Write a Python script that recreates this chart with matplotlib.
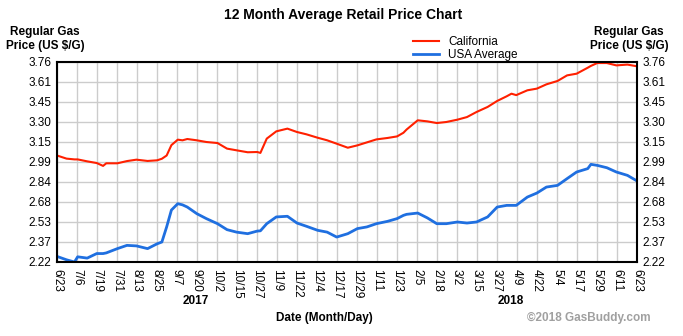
import matplotlib
matplotlib.use("Agg")
import matplotlib.pyplot as plt
import numpy as np

plt.rcParams['font.family'] = ['Liberation Sans', 'DejaVu Sans']

# days since 6/23/2017
days = [0, 6, 11, 13, 19, 25, 29, 31, 38, 44, 50, 57, 63, 66, 69, 72, 76, 79, 82,
        88, 94, 101, 107, 113, 120, 126, 128, 132, 138, 145, 151, 157, 164, 170,
        176, 183, 189, 195, 201, 208, 214, 218, 220, 227, 233, 239, 245, 252, 258,
        264, 271, 277, 283, 286, 289, 296, 302, 308, 315, 321, 327, 334, 336, 340,
        346, 352, 359, 365]

california = [3.04, 3.016, 3.01, 3.01, 2.995, 2.982, 2.96, 2.98, 2.98, 2.997, 3.008,
              2.998, 3.003, 3.015, 3.04, 3.12, 3.162, 3.157, 3.167, 3.157, 3.144,
              3.136, 3.093, 3.08, 3.065, 3.067, 3.06, 3.17, 3.226, 3.247, 3.221,
              3.203, 3.177, 3.157, 3.131, 3.10, 3.118, 3.141, 3.164, 3.175, 3.187,
              3.215, 3.24, 3.311, 3.303, 3.29, 3.298, 3.316, 3.336, 3.375, 3.414,
              3.46, 3.496, 3.516, 3.505, 3.542, 3.555, 3.588, 3.614, 3.657, 3.67,
              3.716, 3.73, 3.752, 3.752, 3.734, 3.74, 3.727]

usa = [2.263, 2.237, 2.22, 2.26, 2.25, 2.285, 2.285, 2.29, 2.323, 2.348, 2.344,
       2.323, 2.36, 2.374, 2.49, 2.62, 2.669, 2.66, 2.643, 2.592, 2.554, 2.515,
       2.469, 2.45, 2.438, 2.458, 2.46, 2.515, 2.567, 2.572, 2.52, 2.495, 2.464,
       2.45, 2.412, 2.438, 2.477, 2.49, 2.515, 2.533, 2.554, 2.579, 2.587, 2.597,
       2.56, 2.515, 2.515, 2.528, 2.52, 2.528, 2.567, 2.643, 2.656, 2.656, 2.656,
       2.72, 2.751, 2.797, 2.81, 2.862, 2.913, 2.939, 2.972, 2.964, 2.946, 2.913,
       2.887, 2.844]

x_labels = ['6/23', '7/6', '7/19', '7/31', '8/13', '8/25', '9/7', '9/20', '10/2',
            '10/15', '10/27', '11/9', '11/22', '12/4', '12/17', '12/29', '1/11',
            '1/23', '2/5', '2/18', '3/2', '3/15', '3/27', '4/9', '4/22', '5/4',
            '5/17', '5/29', '6/11', '6/23']
y_labels = ['2.22', '2.37', '2.53', '2.68', '2.84', '2.99', '3.15', '3.30', '3.45',
            '3.61', '3.76']

W, H = 683, 336
fig = plt.figure(figsize=(W / 100, H / 100), dpi=100)
ax = fig.add_axes([57 / W, 1 - 262 / H, 580 / W, 200 / H])

ax.plot(days, california, color='#ff2000', lw=1.5, label='California')
ax.plot(days, usa, color='#1f6fe0', lw=2.0, label='USA Average')

ax.set_xlim(0, 365)
ax.set_ylim(2.22, 3.76)
ax.set_xticks(np.linspace(0, 365, len(x_labels)))
ax.set_xticklabels(x_labels, rotation=270, fontsize=8.5)
ax.set_yticks(np.linspace(2.22, 3.76, len(y_labels)))
ax.set_yticklabels(y_labels, fontsize=8.5)
ax.tick_params(axis='y', length=0, pad=4, labelleft=True, labelright=True)
ax.tick_params(axis='x', length=0, pad=5)
ax.grid(True, color='#cccccc', lw=1)
for s in ax.spines.values():
    s.set_linewidth(1.5)
    s.set_color('black')

# legend up top, no frame
fig.legend(loc='upper left', bbox_to_anchor=(407 / W, 1 - 30 / H), frameon=False,
           fontsize=8.5, handlelength=2.2, labelspacing=0.1, handletextpad=0.8,
           borderpad=0)

def ftext(x, y, s, **kw):
    fig.text(x / W, 1 - y / H, s, **kw)

ftext(343, 15, '12 Month Average Retail Price Chart', ha='center', va='center',
      fontsize=10, fontweight='bold')
ftext(45, 39, 'Regular Gas\nPrice (US $/G)', ha='center', va='center',
      fontsize=8.5, fontweight='bold', linespacing=1.15)
ftext(629, 39, 'Regular Gas\nPrice (US $/G)', ha='center', va='center',
      fontsize=8.5, fontweight='bold', linespacing=1.15)
ftext(196, 301, '2017', ha='center', va='center', fontsize=8.5, fontweight='bold')
ftext(511, 301, '2018', ha='center', va='center', fontsize=8.5, fontweight='bold')
ftext(324, 318, 'Date (Month/Day)', ha='center', va='center', fontsize=8.5,
      fontweight='bold')
ftext(589, 318, '\u00a92018 GasBuddy.com', ha='center', va='center', fontsize=8.5,
      fontweight='bold', color='#a0a0a0')

fig.savefig('out.png', dpi=100)
